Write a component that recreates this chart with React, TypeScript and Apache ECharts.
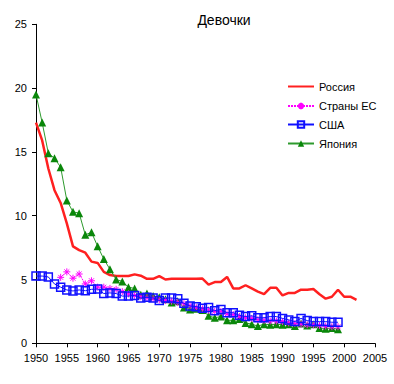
import React, { useEffect, useRef } from "react";
import * as echarts from "echarts";

const titleText = "Девочки";
const seriesNames = ["Россия", "Страны ЕС", "США", "Япония"];

const russiaStart = 1950;
const russiaValues = [
  17.3, 15.9, 13.7, 12.0, 11.0, 9.4, 7.6, 7.3, 7.1, 6.4,
  6.3, 5.6, 5.35, 5.27, 5.27, 5.27, 5.4, 5.3, 5.05, 5.05,
  5.27, 5.0, 5.05, 5.05, 5.05, 5.05, 5.05, 5.07, 4.6, 4.8,
  4.8, 5.2, 4.3, 4.3, 4.55, 4.3, 4.05, 3.85, 4.35, 4.35,
  3.75, 3.95, 3.95, 4.2, 4.2, 4.25, 3.85, 3.5, 3.65, 4.2,
  3.65, 3.65, 3.4,
];

const euStart = 1954;
const euValues = [
  5.17, 5.6, 5.1, 5.43, 4.65, 4.9,
  4.4, 4.4, 4.3, 4.23, 4.05, 3.87, 3.75, 3.65, 3.57, 3.5,
  3.4, 3.35, 3.3, 3.2, 3.1, 2.95, 2.8, 2.7, 2.6, 2.5,
  2.5, 2.3, 2.25, 2.1, 2.0, 1.95, 1.85, 1.8, 1.75, 1.75,
  1.7, 1.6, 1.55, 1.5, 1.45, 1.45, 1.4, 1.35, 1.3, 1.3,
];

const usaStart = 1950;
const usaValues = [
  5.27, 5.27, 5.2, 4.65, 4.4, 4.18, 4.1, 4.18, 4.12, 4.23,
  4.25, 3.9, 3.95, 3.9, 3.7, 3.7, 3.75, 3.55, 3.6, 3.55,
  3.35, 3.55, 3.55, 3.5, 3.13, 2.92, 2.87, 2.75, 2.8, 2.55,
  2.65, 2.4, 2.4, 2.2, 2.1, 2.15, 2.0, 2.0, 2.1, 2.1,
  1.95, 1.83, 1.7, 1.95, 1.78, 1.7, 1.7, 1.7, 1.65, 1.65,
];

const japanStart = 1950;
const japanValues = [
  19.5, 17.3, 14.9, 14.5, 13.8, 11.2, 10.3, 10.2, 8.5, 8.7,
  7.6, 6.6, 5.8, 5.0, 4.85, 4.4, 4.3, 3.8, 3.9, 3.7,
  3.6, 3.45, 3.2, 3.3, 2.8, 2.65, 2.7, 2.6, 2.15, 2.0,
  2.1, 1.8, 1.8, 1.9, 1.6, 1.5, 1.35, 1.5, 1.45, 1.5,
  1.45, 1.5, 1.35, 1.55, 1.4, 1.5, 1.2, 1.15, 1.2, 1.1,
];

const xMin = 1950;
const xMax = 2005;
const xStep = 5;
const yMin = 0;
const yMax = 25;
const yStep = 5;

const toPairs = (start: number, vals: number[]) => vals.map((v, i) => [start + i, v]);

const FONT = "Liberation Sans, Arial, sans-serif";
const asterisk = "path://M5 0V10M0 5H10M1.5 1.5L8.5 8.5M1.5 8.5L8.5 1.5";

const legendTops = [76, 95.5, 114, 133];

export default function App() {
  const ref = useRef<HTMLDivElement>(null);
  useEffect(() => {
    document.body.style.margin = "0";
    const chart = echarts.init(ref.current!, null, { renderer: "svg" });
    const legends = seriesNames.map((name, i) => ({
      orient: "vertical",
      left: 282,
      top: legendTops[i],
      itemWidth: 26,
      itemHeight: 8,
      textStyle: { fontFamily: FONT, fontSize: 11, color: "#000" },
      data: i === 0 ? [{ name, itemStyle: { opacity: 0 } }] : [name],
    }));
    chart.setOption({
      animation: false,
      backgroundColor: "#ffffff",
      title: {
        text: titleText,
        left: 219,
        textAlign: "center",
        top: 8,
        textStyle: { fontFamily: FONT, fontSize: 14, fontWeight: "normal", color: "#000" },
      },
      legend: legends,
      grid: { left: 36, right: 19, top: 24.3, bottom: 40.7, containLabel: false },
      xAxis: {
        type: "value",
        min: xMin,
        max: xMax,
        interval: xStep,
        axisLine: { lineStyle: { color: "#000", width: 1 } },
        axisTick: { show: true, length: 4, lineStyle: { color: "#000" } },
        axisLabel: {
          fontFamily: FONT,
          fontSize: 11,
          color: "#000",
          margin: 9,
          formatter: (v: number) => String(v),
        },
        splitLine: { show: false },
      },
      yAxis: {
        type: "value",
        min: yMin,
        max: yMax,
        interval: yStep,
        axisLine: { show: true, lineStyle: { color: "#000", width: 1 } },
        axisTick: { show: true, length: 4, lineStyle: { color: "#000" } },
        axisLabel: { fontFamily: FONT, fontSize: 11, color: "#000", margin: 9 },
        splitLine: { show: false },
      },
      series: [
        {
          name: seriesNames[0],
          type: "line",
          data: toPairs(russiaStart, russiaValues),
          symbol: "circle",
          showSymbol: false,
          lineStyle: { color: "#ff2020", width: 2.5 },
          itemStyle: { color: "#ff2020" },
          z: 1,
        },
        {
          name: seriesNames[1],
          type: "line",
          data: toPairs(euStart, euValues),
          symbol: asterisk,
          symbolSize: 7,
          lineStyle: { color: "#ff00ff", width: 1, type: [2, 1] },
          itemStyle: { color: "#ff00ff", borderColor: "#ff00ff", borderWidth: 1 },
          z: 3,
        },
        {
          name: seriesNames[2],
          type: "line",
          data: toPairs(usaStart, usaValues),
          symbol: "rect",
          symbolSize: 8,
          lineStyle: { color: "#1010ff", width: 1 },
          itemStyle: { color: "rgba(255,255,255,0)", borderColor: "#1010ff", borderWidth: 1.5 },
          z: 4,
        },
        {
          name: seriesNames[3],
          type: "line",
          data: toPairs(japanStart, japanValues),
          symbol: "triangle",
          symbolSize: 8,
          lineStyle: { color: "#2e9a2e", width: 1 },
          itemStyle: { color: "#0a870a" },
          z: 2,
        },
      ],
    });
    return () => chart.dispose();
  }, []);
  return <div ref={ref} style={{ width: 394, height: 384 }} />;
}
